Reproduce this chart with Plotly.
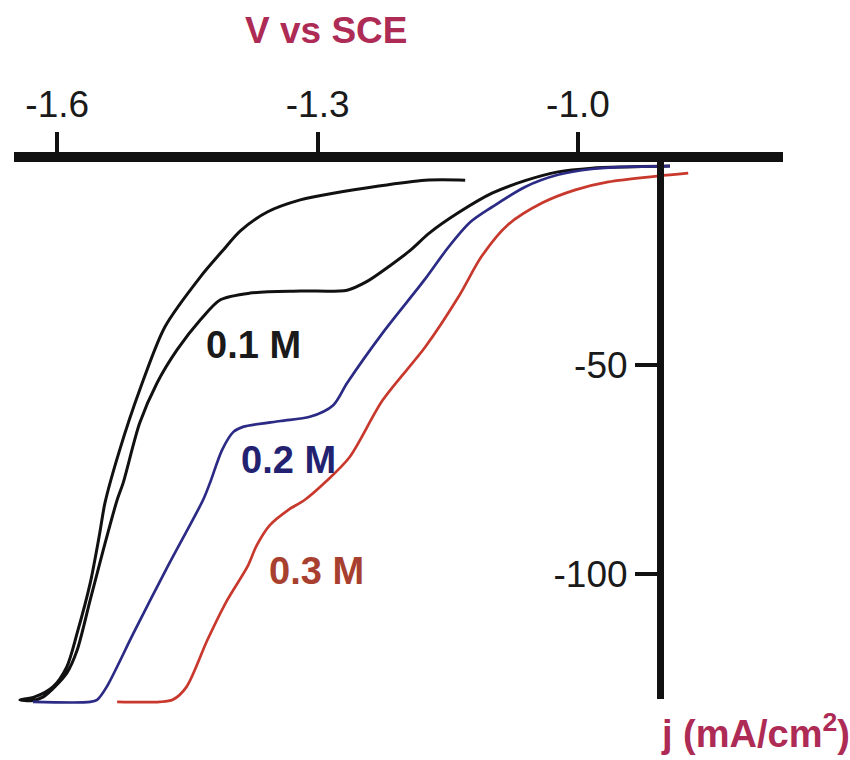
import plotly.graph_objects as go

# Cyclic voltammograms for three concentrations (potential vs SCE, current density)
V_01M = [-1.130, -1.176, -1.282, -1.320, -1.358, -1.389, -1.410, -1.435, -1.476,
         -1.505, -1.528, -1.545, -1.551, -1.562, -1.577, -1.589, -1.605, -1.626,
         -1.643, -1.630, -1.616, -1.589, -1.577, -1.562, -1.547, -1.531, -1.524,
         -1.505, -1.485, -1.462, -1.435, -1.412, -1.378, -1.320, -1.266, -1.243,
         -1.217, -1.194, -1.171, -1.138, -1.099, -1.061, -1.023, -0.984, -0.946,
         -0.894]
J_01M = [-5.8, -5.8, -8.9, -10.5, -13.4, -17.9, -22.8, -28.9, -40.9,
         -56.0, -70.3, -83.0, -90.2, -102.2, -114.1, -122.2, -127.0, -129.4,
         -130.1, -130.3, -129.4, -123.7, -118.2, -106.2, -94.3, -82.3, -78.2,
         -63.9, -54.3, -46.4, -39.2, -34.4, -32.8, -32.3, -32.1, -30.0,
         -26.3, -22.7, -18.4, -13.6, -8.9, -5.9, -3.8, -2.9, -2.6,
         -2.4]

V_02M = [-0.894, -0.946, -0.984, -1.023, -1.061, -1.099, -1.124, -1.150, -1.176,
         -1.225, -1.266, -1.282, -1.309, -1.343, -1.386, -1.397, -1.410, -1.424,
         -1.432, -1.473, -1.512, -1.543, -1.554, -1.562, -1.628]
J_02M = [-2.4, -2.6, -3.1, -4.5, -7.4, -12.2, -15.8, -22.0, -29.4,
         -42.3, -54.3, -59.6, -62.4, -63.4, -64.8, -66.0, -70.3, -78.2,
         -82.3, -98.3, -114.1, -127.0, -130.1, -130.6, -130.6]

V_03M = [-0.873, -0.908, -0.965, -1.003, -1.041, -1.081, -1.111, -1.138, -1.176,
         -1.225, -1.263, -1.291, -1.315, -1.334, -1.355, -1.370, -1.381, -1.404,
         -1.427, -1.451, -1.467, -1.482, -1.531]
J_03M = [-4.1, -4.8, -6.2, -8.1, -11.2, -16.5, -24.0, -33.8, -45.7,
         -58.4, -72.0, -78.0, -82.3, -84.7, -88.3, -93.1, -98.3, -106.2,
         -115.8, -127.0, -130.1, -130.6, -130.6]

X_TICKS = [-1.6, -1.3, -1.0]
X_TICK_TEXT = ["-1.6", "-1.3", "-1.0"]
Y_TICKS = [-50, -100]
Y_TICK_TEXT = ["-50", "-100"]

SERIES_NAMES = ["0.1 M", "0.2 M", "0.3 M"]
LABEL_POS = [(-1.374, -45.2), (-1.333, -72.7), (-1.301, -99.3)]

W, H = 850, 760
FONT = "Liberation Sans, Arial, sans-serif"
TITLE_COLOR = "#ad2b55"

LINE_COLORS = ["#111111", "#2b2b85", "#c8382c"]
LINE_WIDTHS = [3, 2.7, 2.7]
TEXT_COLORS = ["#1a1a1a", "#222270", "#a8402f"]


def fx(px):
    return px / W


def fy(py):
    return 1 - py / H


fig = go.Figure()

for v, j, c, w in zip([V_01M, V_02M, V_03M], [J_01M, J_02M, J_03M],
                      LINE_COLORS, LINE_WIDTHS):
    fig.add_trace(go.Scatter(x=v, y=j, mode="lines",
                             line=dict(color=c, width=w, shape="spline", smoothing=0.8),
                             showlegend=False, hoverinfo="skip"))

# empty trace so the visible current axis gets its own subplot
fig.add_trace(go.Scatter(x=[None], y=[None], xaxis="x", yaxis="y2",
                         showlegend=False, hoverinfo="skip"))

for name, (lx, ly), tc in zip(SERIES_NAMES, LABEL_POS, TEXT_COLORS):
    fig.add_annotation(x=lx, y=ly, xref="x", yref="y", text=f"<b>{name}</b>",
                       xanchor="center", yanchor="middle",
                       showarrow=False, font=dict(family=FONT, size=38, color=tc))

fig.add_annotation(x=fx(326), y=fy(31), xref="paper", yref="paper",
                   xanchor="center", yanchor="middle",
                   text="<b>V vs SCE</b>", showarrow=False,
                   font=dict(family=FONT, size=37, color=TITLE_COLOR))
fig.add_annotation(x=fx(755), y=fy(731), xref="paper", yref="paper",
                   xanchor="center", yanchor="middle",
                   text="<b>j (mA/cm<sup>2</sup>)</b>", showarrow=False,
                   font=dict(family=FONT, size=38, color=TITLE_COLOR))

fig.update_layout(
    width=W, height=H,
    margin=dict(l=0, r=0, t=0, b=0),
    paper_bgcolor="white", plot_bgcolor="rgba(0,0,0,0)",
    xaxis=dict(domain=[fx(14), fx(783)], range=[-1.6498, -0.7638],
               side="top", anchor="free", position=fy(157),
               showline=True, linewidth=10, linecolor="#111111",
               ticks="outside", ticklen=20, tickwidth=4, tickcolor="#111111",
               tickvals=X_TICKS, ticktext=X_TICK_TEXT,
               tickfont=dict(family=FONT, size=37, color="#1a1a1a"),
               showgrid=False, zeroline=False),
    yaxis=dict(domain=[fy(720), fy(140)], range=[-134.93, 3.83],
               visible=False, anchor="x"),
    yaxis2=dict(domain=[fy(699), fy(156)], range=[-130, 0],
                anchor="free", position=fx(660), side="left",
                showline=True, linewidth=7, linecolor="#111111",
                ticks="outside", ticklen=22, tickwidth=4, tickcolor="#111111",
                tickvals=Y_TICKS, ticktext=Y_TICK_TEXT,
                tickfont=dict(family=FONT, size=37, color="#1a1a1a"),
                showgrid=False, zeroline=False),
)

fig.write_html("out.html")
